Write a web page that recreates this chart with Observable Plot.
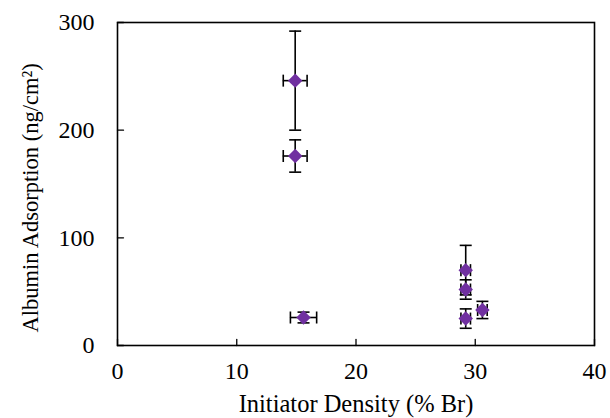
<!DOCTYPE html>
<html>
<head>
<meta charset="utf-8">
<script src="https://cdn.jsdelivr.net/npm/d3@7"></script>
<script src="https://cdn.jsdelivr.net/npm/@observablehq/plot@0.6"></script>
<style>
  html, body { margin: 0; padding: 0; background: #fff; }
  svg text, svg g[aria-label] { font-family: 'Liberation Serif', 'Times New Roman', serif !important; font-variant-numeric: normal !important; }
</style>
</head>
<body>
<div id="chart"></div>
<script>
// Data
const density = [14.9, 14.9, 15.6, 29.2, 29.2, 29.2, 30.6];      // % Br
const adsorption = [246, 176, 26, 70, 52, 25, 33];               // ng/cm²
const adsorptionErr = [46, 15, 5, 23, 9, 9, 8];
const densityErr = [1.0, 1.0, 1.1, 0.4, 0.4, 0.4, 0.4];
const xTicks = [0, 10, 20, 30, 40];
const yTicks = [0, 100, 200, 300];
const xLabel = "Initiator Density (% Br)";
const yLabel = "Albumin Adsorption (ng/cm²)";

const data = density.map((x, i) => ({
  x, y: adsorption[i], ye: adsorptionErr[i], xe: densityErr[i]
}));

const font = "'Liberation Serif', 'Times New Roman', serif";
const hcap = { draw(ctx) { ctx.moveTo(-6, 0); ctx.lineTo(6, 0); } };
const vcap = { draw(ctx) { ctx.moveTo(0, -6); ctx.lineTo(0, 6); } };
const capLen = 6;
const line = { draw(ctx, l) { ctx.moveTo(0, 0); ctx.lineTo(0, -l); } };

const chart = Plot.plot({
  width: 610,
  height: 418,
  marginLeft: 117,
  marginRight: 16,
  marginTop: 22,
  marginBottom: 73,
  style: { fontFamily: font, fontSize: "24px", background: "#fff", color: "#000" },
  x: { domain: [0, 40] },
  y: { domain: [0, 300] },
  marks: [
    Plot.axisX({ ticks: xTicks, tickSize: 0, tickPadding: 16, tickFormat: d => String(d), label: null, fontSize: 24, fontFamily: font }),
    Plot.axisY({ ticks: yTicks, tickSize: 0, tickPadding: 23, tickFormat: d => String(d), label: null, fontSize: 24, fontFamily: font }),
    Plot.vector(xTicks, { x: d => d, y: 0, length: capLen, rotate: 0, anchor: "start", shape: line, stroke: "#000", strokeWidth: 1.3 }),
    Plot.vector(yTicks, { x: 0, y: d => d, length: capLen, rotate: 90, anchor: "start", shape: line, stroke: "#000", strokeWidth: 1.3 }),
    Plot.frame({ stroke: "#000", strokeWidth: 1.6 }),
    Plot.ruleX(data, { x: "x", y1: d => d.y - d.ye, y2: d => d.y + d.ye, stroke: "#000", strokeWidth: 1.6 }),
    Plot.ruleY(data, { y: "y", x1: d => d.x - d.xe, x2: d => d.x + d.xe, stroke: "#000", strokeWidth: 1.6 }),
    Plot.dot(data, { x: "x", y: d => d.y - d.ye, symbol: hcap, fill: "none", stroke: "#000", strokeWidth: 1.6 }),
    Plot.dot(data, { x: "x", y: d => d.y + d.ye, symbol: hcap, fill: "none", stroke: "#000", strokeWidth: 1.6 }),
    Plot.dot(data, { x: d => d.x - d.xe, y: "y", symbol: vcap, fill: "none", stroke: "#000", strokeWidth: 1.6 }),
    Plot.dot(data, { x: d => d.x + d.xe, y: "y", symbol: vcap, fill: "none", stroke: "#000", strokeWidth: 1.6 }),
    Plot.dot(data, { x: "x", y: "y", symbol: "diamond2", r: 6.5, fill: "#7030A0", stroke: "none" }),
    Plot.text([xLabel], { frameAnchor: "bottom", dy: 66, text: d => d, fontSize: 24.5, fontFamily: font, fill: "#000" }),
    Plot.text([yLabel], { frameAnchor: "left", dx: -87, dy: 14, rotate: -90, textAnchor: "middle", text: d => d, fontSize: 22.5, fontFamily: font, fill: "#000" })
  ]
});
document.getElementById("chart").appendChild(chart);
</script>
</body>
</html>
